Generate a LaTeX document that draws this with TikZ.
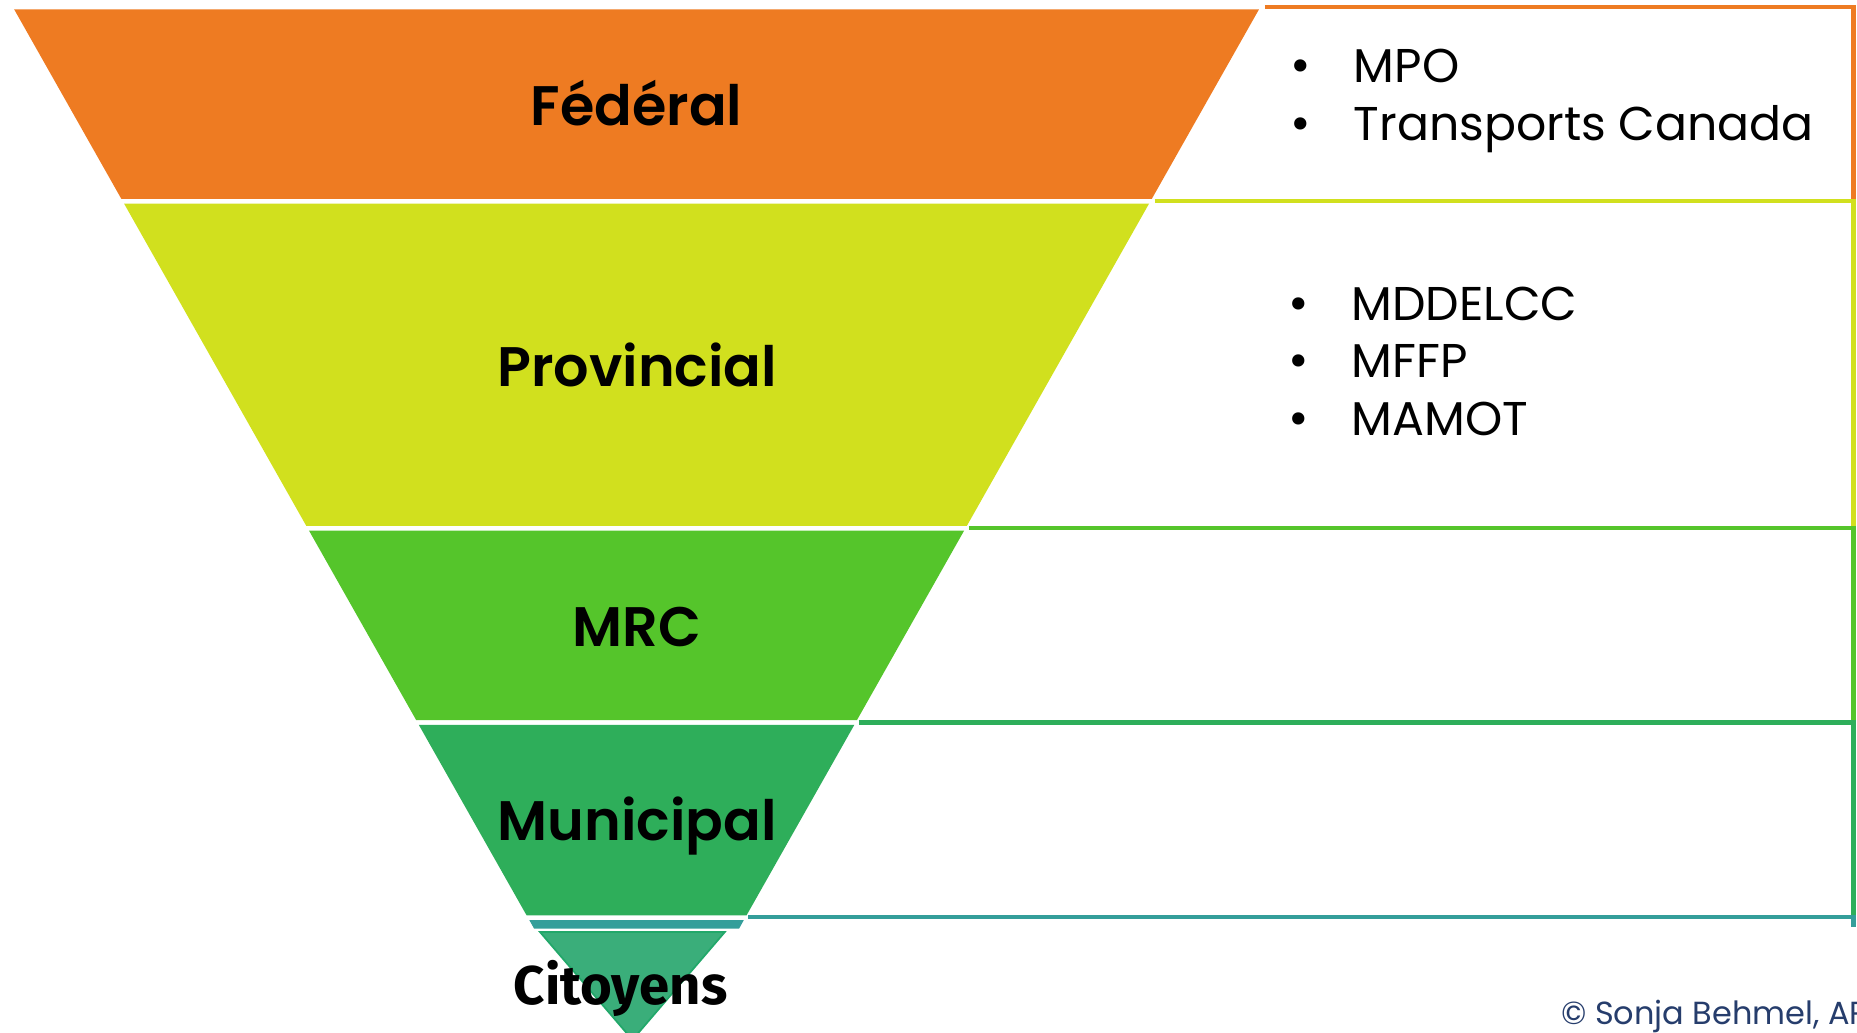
\documentclass[tikz,border=0pt]{standalone}
\usepackage{fontspec}
\setmainfont{Poppins}
\newfontfamily\labfont{Poppins SemiBold}
\newfontfamily\comicfont{Fira Sans}
\definecolor{cfed}{HTML}{EE7B22}
\definecolor{cprov}{HTML}{D1E01E}
\definecolor{cmrc}{HTML}{55C52B}
\definecolor{cmun}{HTML}{2EAE5A}
\definecolor{cteal}{HTML}{349E9A}
\definecolor{ccit}{HTML}{3AAE7A}
\definecolor{ccitb}{HTML}{22A86A}
\definecolor{cnavy}{HTML}{263D6C}
\begin{document}
\begin{tikzpicture}[x=1pt,y=-1pt,
  lab/.style={anchor=base,inner sep=0pt,font=\fontsize{47}{56}\selectfont\labfont},
  item/.style={anchor=base west,inner sep=0pt,font=\fontsize{40}{48}\selectfont},
  bul/.style={anchor=base,inner sep=0pt,font=\fontsize{42}{48}\selectfont},
  boxline/.style={line width=3.5pt,line cap=butt,line join=miter}]
\useasboundingbox (0,0) rectangle (1568,872);
% pyramid bands
\fill[cfed]  (12,8) -- (1063,8) -- (972.5,168) -- (102.5,168) -- cycle;
\fill[cprov] (104.8,172) -- (970.2,172) -- (816.4,444) -- (258.6,444) -- cycle;
\fill[cmrc]  (260.9,448) -- (814.1,448) -- (723.6,608) -- (351.4,608) -- cycle;
\fill[cmun]  (353.6,612) -- (721.4,612) -- (630.3,773) -- (444.7,773) -- cycle;
\fill[cteal] (447,777) -- (628,777) -- (624.1,784) -- (450.9,784) -- cycle;
\filldraw[fill=ccit,draw=ccitb,line width=1.5pt] (456,787) -- (612,787) -- (534,878) -- cycle;
% right boxes
\draw[boxline,cfed]  (1068,6) -- (1565,6) -- (1565,170);
\draw[boxline,cprov] (975,170) -- (1565,170) -- (1565,446);
\draw[boxline,cmrc]  (818,446) -- (1565,446) -- (1565,610);
\draw[boxline,cmun]  (725,610) -- (1565,610) -- (1565,774);
\draw[boxline,cteal] (632,774) -- (1565,774) -- (1565,783);
% labels
\node[lab] (fed)  at (537.5,106) {Fédéral};
\node[lab] (prov) at (538,326) {Provincial};
\node[lab] (mrc)  at (538,546) {MRC};
\node[lab] (mun)  at (538,710) {Municipal};
\node[anchor=base,inner sep=0pt,font=\fontsize{46}{50}\selectfont\comicfont\bfseries] (cit) at (524,848) {Citoyens};
% lists
\node[bul]  (b1) at (1098,70) {•};
\node[item] (t1) at (1143,70) {MPO};
\node[bul]  (b2) at (1098,119) {•};
\node[item] (t2) at (1143,119) {Transports Canada};
\node[bul]  (b3) at (1097,271) {•};
\node[item] (t3) at (1141,271) {MDDELCC};
\node[bul]  (b4) at (1097,319) {•};
\node[item] (t4) at (1141,319) {MFFP};
\node[bul]  (b5) at (1097,368) {•};
\node[item] (t5) at (1141,368) {MAMOT};
% copyright
\node[anchor=base west,inner sep=0pt,text=cnavy,font=\fontsize{27}{30}\selectfont] (copy) at (1318,865) {© Sonja Behmel, AP};
\end{tikzpicture}
\end{document}
